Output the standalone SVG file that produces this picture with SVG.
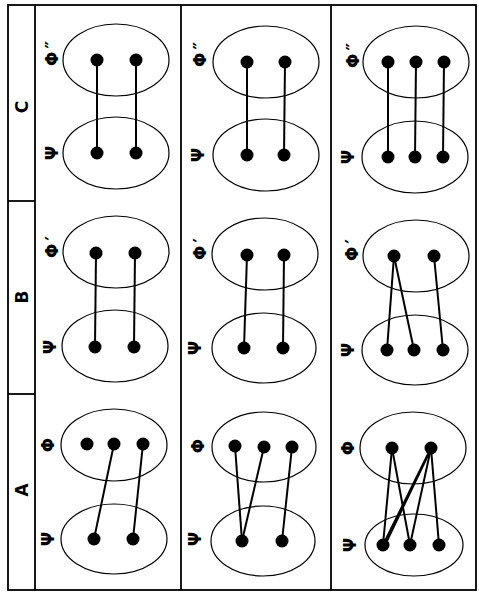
<svg xmlns="http://www.w3.org/2000/svg" width="479" height="596" viewBox="0 0 479 596">
<style>
.frame{fill:none;stroke:#000;stroke-width:1.8}
.ell{fill:none;stroke:#000;stroke-width:1.2}
.dot{fill:#000}
.lnk{stroke:#000;stroke-width:2;fill:none}
.lbl{font-family:"DejaVu Sans",sans-serif;font-weight:bold;font-size:17px;fill:#000}
.hdr{font-family:"DejaVu Sans",sans-serif;font-weight:bold;font-size:17px;fill:#000}
</style>
<rect x="0" y="0" width="479" height="596" fill="#fff"/>
<g id="frame">
<rect class="frame" x="8" y="5" width="468" height="585"/>
<line class="frame" x1="35" y1="5" x2="35" y2="590"/>
<line class="frame" x1="181" y1="5" x2="181" y2="590"/>
<line class="frame" x1="331" y1="5" x2="331" y2="590"/>
<line class="frame" x1="8" y1="201" x2="35" y2="201"/>
<line class="frame" x1="8" y1="394" x2="35" y2="394"/>
</g>
<g id="headers">
<text class="hdr" transform="translate(22,107) rotate(-90)" text-anchor="middle" dominant-baseline="central">C</text>
<text class="hdr" transform="translate(22,297) rotate(-90)" text-anchor="middle" dominant-baseline="central">B</text>
<text class="hdr" transform="translate(22,490) rotate(-90)" text-anchor="middle" dominant-baseline="central">A</text>
</g>
<g id="connectors">
<line class="lnk" x1="97" y1="60" x2="97" y2="153"/>
<line class="lnk" x1="136" y1="60" x2="136" y2="153"/>
<line class="lnk" x1="96" y1="253" x2="95" y2="347"/>
<line class="lnk" x1="135" y1="253" x2="134" y2="347"/>
<line class="lnk" x1="114" y1="444" x2="94" y2="539"/>
<line class="lnk" x1="143" y1="444" x2="133" y2="539"/>
<line class="lnk" x1="247" y1="62" x2="247" y2="155"/>
<line class="lnk" x1="285" y1="62" x2="284" y2="155"/>
<line class="lnk" x1="247" y1="255" x2="244" y2="348"/>
<line class="lnk" x1="284" y1="255" x2="283" y2="348"/>
<line class="lnk" x1="235" y1="446" x2="242" y2="541"/>
<line class="lnk" x1="264" y1="447" x2="242" y2="541"/>
<line class="lnk" x1="292" y1="447" x2="282" y2="541"/>
<line class="lnk" x1="388" y1="62" x2="388" y2="157"/>
<line class="lnk" x1="416" y1="62" x2="415" y2="157"/>
<line class="lnk" x1="444" y1="62" x2="443" y2="157"/>
<line class="lnk" x1="394" y1="256" x2="387" y2="350"/>
<line class="lnk" x1="394" y1="256" x2="414" y2="350"/>
<line class="lnk" x1="434" y1="256" x2="443" y2="350"/>
<line class="lnk" x1="392" y1="448" x2="383" y2="545"/>
<line class="lnk" x1="392" y1="448" x2="410" y2="545"/>
<line class="lnk" x1="431" y1="448" x2="383" y2="545"/>
<line class="lnk" x1="431" y1="449" x2="386" y2="543"/>
<line class="lnk" x1="431" y1="448" x2="410" y2="545"/>
<line class="lnk" x1="431" y1="448" x2="439" y2="545"/>
</g>
<g id="cell-C1">
<ellipse class="ell" cx="116" cy="60" rx="53" ry="36"/>
<ellipse class="ell" cx="116" cy="153" rx="53" ry="36"/>
<circle class="dot" cx="97" cy="60" r="6.5"/><circle class="dot" cx="136" cy="60" r="6.5"/>
<circle class="dot" cx="97" cy="153" r="6.5"/><circle class="dot" cx="136" cy="153" r="6.5"/>
<text class="lbl" transform="translate(52,66) rotate(-90)" dominant-baseline="central">Φ<tspan dx="3">″</tspan></text>
<text class="lbl" transform="translate(52,153) rotate(-90)" text-anchor="middle" dominant-baseline="central">Ψ</text>
</g>
<g id="cell-B1">
<ellipse class="ell" cx="116" cy="252" rx="53" ry="36"/>
<ellipse class="ell" cx="115" cy="346" rx="53" ry="36"/>
<circle class="dot" cx="96" cy="253" r="6.5"/><circle class="dot" cx="135" cy="253" r="6.5"/>
<circle class="dot" cx="95" cy="347" r="6.5"/><circle class="dot" cx="134" cy="347" r="6.5"/>
<text class="lbl" transform="translate(52,258) rotate(-90)" dominant-baseline="central">Φ<tspan dx="3">′</tspan></text>
<text class="lbl" transform="translate(50,347) rotate(-90)" text-anchor="middle" dominant-baseline="central">Ψ</text>
</g>
<g id="cell-A1">
<ellipse class="ell" cx="114" cy="445" rx="53" ry="36"/>
<ellipse class="ell" cx="114" cy="539" rx="53" ry="35"/>
<circle class="dot" cx="87" cy="444" r="6.5"/><circle class="dot" cx="114" cy="444" r="6.5"/><circle class="dot" cx="143" cy="444" r="6.5"/>
<circle class="dot" cx="94" cy="539" r="6.5"/><circle class="dot" cx="133" cy="539" r="6.5"/>
<text class="lbl" transform="translate(48,445) rotate(-90)" text-anchor="middle" dominant-baseline="central">Φ</text>
<text class="lbl" transform="translate(48,539) rotate(-90)" text-anchor="middle" dominant-baseline="central">Ψ</text>
</g>
<g id="cell-C2">
<ellipse class="ell" cx="266" cy="62" rx="53" ry="36"/>
<ellipse class="ell" cx="266" cy="155" rx="53" ry="36"/>
<circle class="dot" cx="247" cy="62" r="6.5"/><circle class="dot" cx="285" cy="62" r="6.5"/>
<circle class="dot" cx="247" cy="155" r="6.5"/><circle class="dot" cx="284" cy="155" r="6.5"/>
<text class="lbl" transform="translate(200,67) rotate(-90)" dominant-baseline="central">Φ<tspan dx="3">″</tspan></text>
<text class="lbl" transform="translate(198,155) rotate(-90)" text-anchor="middle" dominant-baseline="central">Ψ</text>
</g>
<g id="cell-B2">
<ellipse class="ell" cx="265" cy="254" rx="53" ry="36"/>
<ellipse class="ell" cx="264" cy="348" rx="52" ry="35"/>
<circle class="dot" cx="247" cy="255" r="6.5"/><circle class="dot" cx="284" cy="255" r="6.5"/>
<circle class="dot" cx="244" cy="348" r="6.5"/><circle class="dot" cx="283" cy="348" r="6.5"/>
<text class="lbl" transform="translate(200,260) rotate(-90)" dominant-baseline="central">Φ<tspan dx="3">′</tspan></text>
<text class="lbl" transform="translate(195,348) rotate(-90)" text-anchor="middle" dominant-baseline="central">Ψ</text>
</g>
<g id="cell-A2">
<ellipse class="ell" cx="264" cy="447" rx="52" ry="35"/>
<ellipse class="ell" cx="263" cy="541" rx="52" ry="35"/>
<circle class="dot" cx="235" cy="446" r="6.5"/><circle class="dot" cx="264" cy="447" r="6.5"/><circle class="dot" cx="292" cy="447" r="6.5"/>
<circle class="dot" cx="242" cy="541" r="6.5"/><circle class="dot" cx="282" cy="541" r="6.5"/>
<text class="lbl" transform="translate(198,446) rotate(-90)" text-anchor="middle" dominant-baseline="central">Φ</text>
<text class="lbl" transform="translate(195,539) rotate(-90)" text-anchor="middle" dominant-baseline="central">Ψ</text>
</g>
<g id="cell-C3">
<ellipse class="ell" cx="416" cy="62" rx="53" ry="36"/>
<ellipse class="ell" cx="415" cy="157" rx="53" ry="36"/>
<circle class="dot" cx="388" cy="62" r="6.5"/><circle class="dot" cx="416" cy="62" r="6.5"/><circle class="dot" cx="444" cy="62" r="6.5"/>
<circle class="dot" cx="388" cy="157" r="6.5"/><circle class="dot" cx="415" cy="157" r="6.5"/><circle class="dot" cx="443" cy="157" r="6.5"/>
<text class="lbl" transform="translate(353,68) rotate(-90)" dominant-baseline="central">Φ<tspan dx="3">″</tspan></text>
<text class="lbl" transform="translate(348,157) rotate(-90)" text-anchor="middle" dominant-baseline="central">Ψ</text>
</g>
<g id="cell-B3">
<ellipse class="ell" cx="416" cy="256" rx="53" ry="36"/>
<ellipse class="ell" cx="415" cy="350" rx="53" ry="35"/>
<circle class="dot" cx="394" cy="256" r="6.5"/><circle class="dot" cx="434" cy="256" r="6.5"/>
<circle class="dot" cx="387" cy="350" r="6.5"/><circle class="dot" cx="414" cy="350" r="6.5"/><circle class="dot" cx="443" cy="350" r="6.5"/>
<text class="lbl" transform="translate(352,261) rotate(-90)" dominant-baseline="central">Φ<tspan dx="3">′</tspan></text>
<text class="lbl" transform="translate(348,350) rotate(-90)" text-anchor="middle" dominant-baseline="central">Ψ</text>
</g>
<g id="cell-A3">
<ellipse class="ell" cx="413" cy="448" rx="53" ry="36"/>
<ellipse class="ell" cx="414" cy="545" rx="49" ry="31"/>
<circle class="dot" cx="392" cy="448" r="6.5"/><circle class="dot" cx="431" cy="448" r="6.5"/>
<circle class="dot" cx="383" cy="545" r="6.5"/><circle class="dot" cx="410" cy="545" r="6.5"/><circle class="dot" cx="439" cy="545" r="6.5"/>
<text class="lbl" transform="translate(348,448) rotate(-90)" text-anchor="middle" dominant-baseline="central">Φ</text>
<text class="lbl" transform="translate(350,545) rotate(-90)" text-anchor="middle" dominant-baseline="central">Ψ</text>
</g>
</svg>
